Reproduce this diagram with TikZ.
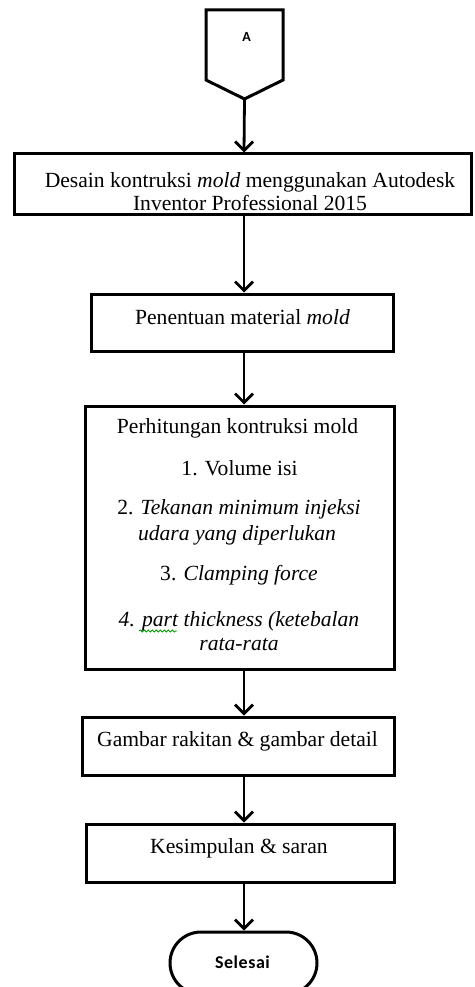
\documentclass[tikz,border=0pt]{standalone}
\usepackage{fontspec}
\setmainfont{Liberation Serif}
\newfontfamily\calibrifont{Carlito}
\usetikzlibrary{arrows.meta,shapes.misc,decorations.pathmorphing}
\begin{document}
\begin{tikzpicture}[x=1pt,y=-1pt,
  box/.style={draw,line width=3pt,rectangle,inner sep=0pt},
  txt/.style={anchor=base,inner sep=0pt,font=\fontsize{21.6}{20}\selectfont},
  flow/.style={line width=2.8pt,-{Straight Barb[length=9pt,width=18pt]}}
]
\useasboundingbox (0,0) rectangle (474,987);
% off-page connector
\draw[line width=3pt] (206,10) -- (283,10) -- (283,80) -- (244.5,99) -- (206,80) -- cycle;
\coordinate (Atip) at (244.5,99);
\coordinate (ax) at (244,0);
\node[anchor=base,inner sep=0pt,font=\calibrifont\bfseries\fontsize{14}{14}\selectfont] (A) at (246.5,42) {A};
% boxes
\node[box,minimum width=457pt,minimum height=60pt] (b1) at (242.5,184) {};
\node[box,minimum width=302pt,minimum height=57pt] (b2) at (242,322.5) {};
\node[box,minimum width=309pt,minimum height=263pt] (b3) at (239.7,537.5) {};
\node[box,minimum width=312pt,minimum height=58pt] (b4) at (238,746) {};
\node[box,minimum width=308pt,minimum height=58pt] (b5) at (240,853) {};
\node[draw,line width=3pt,rounded rectangle,minimum width=147pt,minimum height=62pt,inner sep=0pt] (end) at (243.5,963) {};
% texts
\node[txt] (t1a) at (250,188) {Desain kontruksi \textit{mold} menggunakan Autodesk};
\node[txt] (t1b) at (250,211) {Inventor Professional 2015};
\node[txt] (t2) at (242.5,324) {Penentuan material \textit{mold}};
\node[txt] (t3a) at (237.5,433) {Perhitungan kontruksi mold};
\node[txt] (t3b) at (239.5,475) {1. Volume isi};
\node[txt] (t3c) at (239,514) {2. \textit{Tekanan minimum injeksi}};
\node[txt] (t3d) at (237,540) {\textit{udara yang diperlukan}};
\node[txt] (t3e) at (239,580) {3. \textit{Clamping force}};
\node[txt] (t3f) at (239,626) {\textit{4. part thickness (ketebalan}};
\node[txt] (t3g) at (239,650) {\textit{rata-rata}};
\draw[green!60!black,line width=0.8pt,decorate,decoration={snake,amplitude=1pt,segment length=4pt}] (139,631) -- (177,631);
\node[txt] (t4) at (237.5,746) {Gambar rakitan \& gambar detail};
\node[txt] (t5) at (239,853) {Kesimpulan \& saran};
\node[anchor=base,inner sep=0pt,font=\calibrifont\bfseries\fontsize{18}{18}\selectfont\addfontfeatures{LetterSpace=3}] (tend) at (242.5,968) {Selesai};
% connectors
\draw[flow] (Atip) -- (b1.north -| ax);
\draw[flow] (b1.south -| ax) -- (b2.north -| ax);
\draw[flow] (b2.south -| ax) -- (b3.north -| ax);
\draw[flow] (b3.south -| ax) -- (b4.north -| ax);
\draw[flow] (b4.south -| ax) -- (b5.north -| ax);
\draw[flow] (b5.south -| ax) -- (end.north -| ax);
\end{tikzpicture}
\end{document}
